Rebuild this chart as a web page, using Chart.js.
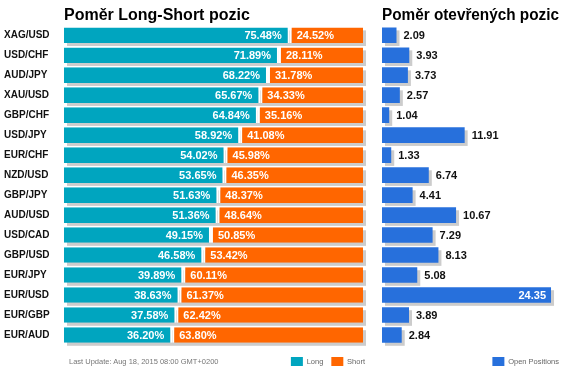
<!DOCTYPE html>
<html>
<head>
<meta charset="utf-8">
<title>Poměr Long-Short pozic</title>
<script src="https://cdn.jsdelivr.net/npm/chart.js"></script>
<style>
  body { margin: 0; width: 585px; height: 375px; overflow: hidden; background: #fff; position: relative; font-family: "Liberation Sans", Arial, sans-serif; }
  #ratioChart { position: absolute; left: 0; top: 0; }
  #openChart { position: absolute; left: 372px; top: 0; }
  #updated { position: absolute; left: 69px; top: 357px; font-size: 7.5px; line-height: 10px; color: #777; }
</style>
</head>
<body>
<canvas id="ratioChart" width="380" height="376"></canvas>
<canvas id="openChart" width="213" height="376"></canvas>
<div id="updated">Last Update: Aug 18, 2015 08:00 GMT+0200</div>

<script>
const pairs = ['XAG/USD', 'USD/CHF', 'AUD/JPY', 'XAU/USD', 'GBP/CHF', 'USD/JPY', 'EUR/CHF', 'NZD/USD',
               'GBP/JPY', 'AUD/USD', 'USD/CAD', 'GBP/USD', 'EUR/JPY', 'EUR/USD', 'EUR/GBP', 'EUR/AUD'];
const longPct = [75.48, 71.89, 68.22, 65.67, 64.84, 58.92, 54.02, 53.65, 51.63, 51.36, 49.15, 46.58, 39.89, 38.63, 37.58, 36.20];
const shortPct = [24.52, 28.11, 31.78, 34.33, 35.16, 41.08, 45.98, 46.35, 48.37, 48.64, 50.85, 53.42, 60.11, 61.37, 62.42, 63.80];
const openPos = [2.09, 3.93, 3.73, 2.57, 1.04, 11.91, 1.33, 6.74, 4.41, 10.67, 7.29, 8.13, 5.08, 24.35, 3.89, 2.84];

const FONT = '"Liberation Sans", Arial, sans-serif';
Chart.defaults.font.family = FONT;
Chart.defaults.animation = false;

// grey drop shadow under each row of bars
const barShadow = {
  id: 'barShadow',
  beforeDatasetsDraw(chart) {
    const ctx = chart.ctx;
    const metas = chart.getSortedVisibleDatasetMetas();
    ctx.save();
    ctx.fillStyle = '#cccccc';
    chart.data.labels.forEach((_, i) => {
      let x0 = Infinity, x1 = -Infinity, y = 0, h = 0;
      metas.forEach(m => {
        const b = m.data[i].getProps(['x', 'y', 'base', 'height'], true);
        x0 = Math.min(x0, b.base, b.x);
        x1 = Math.max(x1, b.base, b.x);
        y = b.y; h = b.height;
      });
      ctx.fillRect(x0 + 3, y - h / 2 + 3, x1 - x0, h);
    });
    ctx.restore();
  }
};

const ratioLabels = {
  id: 'ratioLabels',
  afterDatasetsDraw(chart) {
    const ctx = chart.ctx;
    ctx.save();
    ctx.font = 'bold 11px ' + FONT;
    ctx.fillStyle = '#fff';
    ctx.textBaseline = 'middle';
    chart.getDatasetMeta(0).data.forEach((bar, i) => {
      ctx.textAlign = 'right';
      ctx.fillText(longPct[i].toFixed(2) + '%', bar.x - 8, bar.y + 1);
    });
    chart.getDatasetMeta(1).data.forEach((bar, i) => {
      ctx.textAlign = 'left';
      ctx.fillText(shortPct[i].toFixed(2) + '%', bar.base + 7, bar.y + 1);
    });
    ctx.restore();
  }
};

const openLabels = {
  id: 'openLabels',
  afterDatasetsDraw(chart) {
    const ctx = chart.ctx;
    const area = chart.chartArea;
    ctx.save();
    ctx.font = 'bold 11px ' + FONT;
    ctx.textBaseline = 'middle';
    chart.getDatasetMeta(0).data.forEach((bar, i) => {
      const txt = openPos[i].toFixed(2);
      const w = ctx.measureText(txt).width;
      if (bar.x + 7 + w > area.right) {
        ctx.fillStyle = '#fff';
        ctx.textAlign = 'right';
        ctx.fillText(txt, bar.x - 5, bar.y + 1);
      } else {
        ctx.fillStyle = '#111';
        ctx.textAlign = 'left';
        ctx.fillText(txt, bar.x + 7, bar.y + 1);
      }
    });
    ctx.restore();
  }
};

const legendOpts = {
  position: 'bottom',
  align: 'end',
  labels: {
    boxWidth: 12,
    boxHeight: 9,
    padding: 8,
    color: '#666',
    font: { size: 7.5 },
    generateLabels: chart => Chart.defaults.plugins.legend.labels.generateLabels(chart)
      .map(l => Object.assign(l, { lineWidth: 0 }))
  }
};

const titleOpts = text => ({
  display: true,
  text: text,
  align: 'start',
  fullSize: false,
  color: '#000',
  font: { size: 16, weight: 'bold' },
  padding: { top: 0, bottom: 0 }
});

const spacerX = (max, stacked) => ({
  display: true,
  min: 0,
  max: max,
  stacked: stacked,
  grid: { display: false },
  border: { display: false },
  ticks: { display: false },
  afterFit: s => { s.height = 4; }
});

// empty axis on the right, only to keep the plot narrower than the legend row
const spacerRight = w => ({
  type: 'linear',
  position: 'right',
  grid: { display: false },
  border: { display: false },
  ticks: { display: false },
  afterFit: s => { s.width = w; }
});

new Chart(document.getElementById('ratioChart'), {
  type: 'bar',
  data: {
    labels: pairs,
    datasets: [
      { label: 'Long', data: longPct, backgroundColor: '#00a5bf', borderColor: '#fff',
        borderWidth: { right: 2 }, borderSkipped: false },
      { label: 'Short', data: shortPct, backgroundColor: '#ff6600', borderColor: '#fff',
        borderWidth: { left: 2 }, borderSkipped: false }
    ]
  },
  options: {
    indexAxis: 'y',
    responsive: false,
    barPercentage: 0.78,
    categoryPercentage: 1,
    layout: { padding: { top: 6, left: 4, right: 7, bottom: 0 } },
    scales: {
      x: spacerX(100, true),
      y: {
        stacked: true,
        grid: { display: false },
        border: { display: false },
        ticks: { crossAlign: 'far', color: '#111', font: { size: 10, weight: 'bold' } },
        afterFit: s => { s.width = 60; }
      },
      yPad: spacerRight(10)
    },
    plugins: {
      title: titleOpts('Poměr Long-Short pozic'),
      legend: legendOpts,
      tooltip: { enabled: false }
    }
  },
  plugins: [barShadow, ratioLabels]
});

new Chart(document.getElementById('openChart'), {
  type: 'bar',
  data: {
    labels: pairs,
    datasets: [
      { label: 'Open Positions', data: openPos, backgroundColor: '#2770dc' }
    ]
  },
  options: {
    indexAxis: 'y',
    responsive: false,
    barPercentage: 0.78,
    categoryPercentage: 1,
    layout: { padding: { top: 6, left: 10, right: 18, bottom: 0 } },
    scales: {
      x: spacerX(25.5, false),
      y: { display: false },
      yPad: spacerRight(8)
    },
    plugins: {
      title: titleOpts('Poměr otevřených pozic'),
      legend: legendOpts,
      tooltip: { enabled: false }
    }
  },
  plugins: [barShadow, openLabels]
});
</script>
</body>
</html>
